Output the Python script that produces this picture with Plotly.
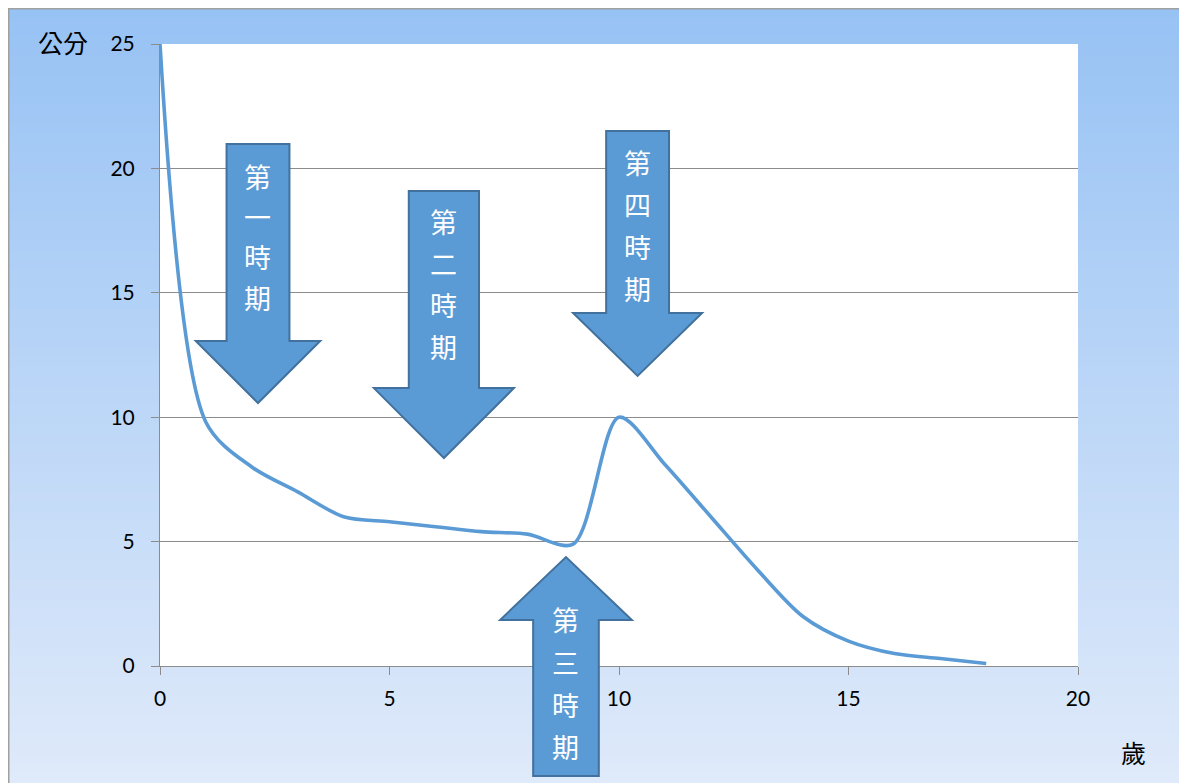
import plotly.graph_objects as go

# ---- data ----
ages = [0, 1, 2, 3, 4, 5, 6, 7, 8, 9, 10, 11, 12, 13, 14, 15, 16, 17, 18]
growth_cm = [25, 9.8, 8.0, 7.0, 6.0, 5.8, 5.6, 5.4, 5.3, 4.9, 10.0, 8.1, 6.0, 3.9, 2.0, 1.0, 0.5, 0.3, 0.1]
x_ticks = [0, 5, 10, 15, 20]
y_ticks = [0, 5, 10, 15, 20, 25]
y_label = "公分"
x_label = "歲"
period_labels = [["第", "一", "時", "期"], ["第", "二", "時", "期"],
                 ["第", "三", "時", "期"], ["第", "四", "時", "期"]]

W, H = 1179, 775
ML, MT, PW, PH = 152, 36, 918, 622
MR = W - ML - PW
MB = H - MT - PH
X0, X1, Y0, Y1 = 0, 20, 0, 25


def fx(x):
    return (x - X0) / (X1 - X0)


def fy(y):
    return (y - Y0) / (Y1 - Y0)


def px_x(p):  # figure pixel -> paper
    return (p - ML) / PW


def px_y(p):
    return 1 - (p - MT) / PH


fig = go.Figure()
fig.add_trace(go.Scatter(x=ages, y=growth_cm, mode="lines",
                         line=dict(color="#5B9BD5", width=3.6, shape="spline", smoothing=0.85),
                         hoverinfo="skip", cliponaxis=False))

shapes = []
# gradient background strips over the whole figure
N = 80
top_c = (0x97, 0xC2, 0xF4)
bot_c = (0xDF, 0xEA, 0xFA)
for i in range(N):
    t = i / (N - 1)
    c = tuple(round(top_c[k] + (bot_c[k] - top_c[k]) * t) for k in range(3))
    p_a = H * i / N
    p_b = H * (i + 1) / N + 1
    shapes.append(dict(type="rect", xref="paper", yref="paper", x0=px_x(-2), x1=px_x(W + 2),
                       y0=px_y(p_b), y1=px_y(p_a), fillcolor="rgb(%d,%d,%d)" % c,
                       line=dict(width=0), layer="below"))
# frame lines (left, top)
shapes.append(dict(type="line", xref="paper", yref="paper", x0=px_x(0.75), x1=px_x(0.75),
                   y0=px_y(H + 2), y1=px_y(0), line=dict(color="#A0A0A0", width=1.5), layer="below"))
shapes.append(dict(type="line", xref="paper", yref="paper", x0=px_x(0), x1=px_x(W + 2),
                   y0=px_y(0.75), y1=px_y(0.75), line=dict(color="#A0A0A0", width=1.5), layer="below"))
# white plot area
shapes.append(dict(type="rect", xref="x domain", yref="y domain", x0=0, x1=1, y0=0, y1=1,
                   fillcolor="white", line=dict(width=0), layer="below"))


def arrow_path(cx, hw, hh, y_start, y_base, y_tip):
    pts = [(cx - hw, y_start), (cx + hw, y_start), (cx + hw, y_base), (cx + hh, y_base),
           (cx, y_tip), (cx - hh, y_base), (cx - hw, y_base)]
    return "M " + " L ".join("%.5f,%.5f" % (fx(px), fy(py)) for px, py in pts) + " Z"


# (center x, shaft half width, head half width, tail y, head base y, tip y)
arrows = [
    (2.135, 0.685, 1.355, 20.98, 13.06, 10.57),
    (6.185, 0.765, 1.525, 19.09, 11.17, 8.36),
    (8.845, 0.715, 1.435, -4.42, 1.85, 4.38),
    (10.405, 0.685, 1.405, 21.5, 14.19, 11.66),
]
for a in arrows:
    shapes.append(dict(type="path", xref="x domain", yref="y domain", path=arrow_path(*a),
                       fillcolor="#5B9BD5", line=dict(color="#41719C", width=2), layer="above"))

annotations = []
# (first char y, step)
text_pos = [(19.69, -1.62), (17.85, -1.67), (1.85, -1.70), (20.22, -1.68)]
for (cx, *_), chars, (ys, st) in zip(arrows, period_labels, text_pos):
    for j, ch in enumerate(chars):
        annotations.append(dict(text=ch, xref="x domain", yref="y domain", x=fx(cx),
                                y=fy(ys + st * j), showarrow=False, xanchor="center",
                                yanchor="middle",
                                font=dict(family="Noto Sans CJK TC", size=27, color="white")))

annotations.append(dict(text=y_label, xref="paper", yref="paper", x=px_x(55), y=px_y(34),
                        showarrow=False, xanchor="center", yanchor="middle",
                        font=dict(family="Noto Sans CJK TC", size=25, color="black")))
annotations.append(dict(text=x_label, xref="paper", yref="paper", x=px_x(1125), y=px_y(744),
                        showarrow=False, xanchor="center", yanchor="middle",
                        font=dict(family="Noto Sans CJK TC", size=25, color="black")))

fig.update_layout(
    width=W, height=H,
    margin=dict(l=ML, r=MR, t=MT, b=MB),
    paper_bgcolor="white", plot_bgcolor="white",
    showlegend=False,
    shapes=shapes, annotations=annotations,
    font=dict(family="Lato", size=21, color="black"),
)
fig.update_xaxes(range=[X0, X1], tickvals=x_ticks, showgrid=False, zeroline=False,
                 showline=True, linecolor="#8C8C8C", linewidth=1,
                 ticks="outside", ticklen=8, tickcolor="#8C8C8C", ticklabelstandoff=6,
                 tickfont=dict(family="Lato", size=21, color="black"), fixedrange=True)
fig.update_yaxes(range=[Y0, Y1], tickvals=y_ticks, showgrid=True, gridcolor="#8C8C8C",
                 gridwidth=1, zeroline=False, showline=True, linecolor="#8C8C8C", linewidth=1,
                 ticks="outside", ticklen=8, tickcolor="#8C8C8C", ticklabelstandoff=12,
                 tickfont=dict(family="Lato", size=21, color="black"), fixedrange=True)

fig.write_html("out.html")
